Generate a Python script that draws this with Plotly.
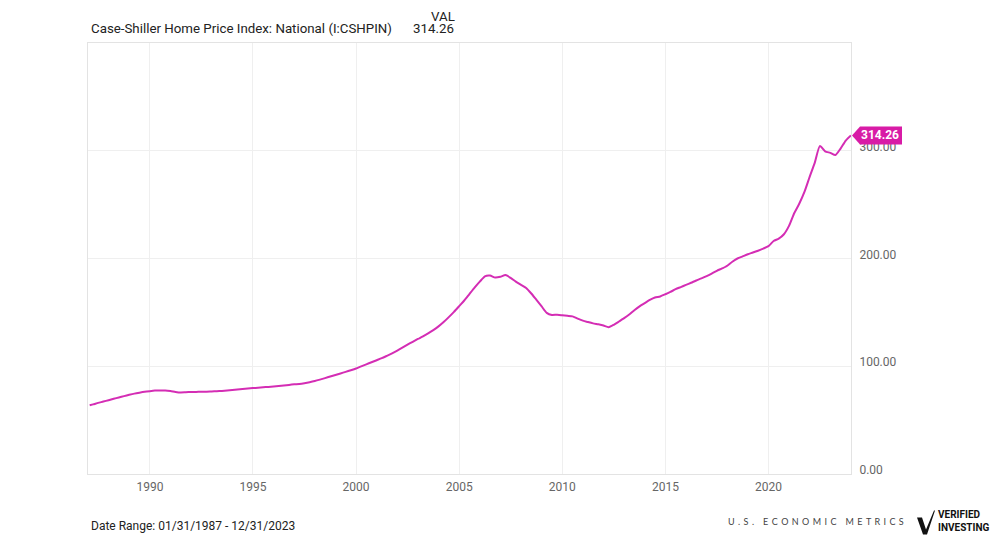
import pandas as pd
import plotly.graph_objects as go

# quarterly readings of the national index, first point is Jan 1987
start_date = "1987-01-31"
start_value = 63.8
quarter_values = [
    64.6, 66.0, 67.2, 68.5,      # 1987
    69.8, 71.0, 72.3, 73.5,      # 1988
    74.6, 75.5, 76.3, 76.9,      # 1989
    77.4, 77.6, 77.5, 77.0,      # 1990
    76.2, 75.7, 75.9, 76.1,      # 1991
    76.2, 76.4, 76.4, 76.6,      # 1992
    76.8, 77.1, 77.5, 77.9,      # 1993
    78.4, 78.9, 79.3, 79.7,      # 1994
    80.1, 80.5, 80.8, 81.2,      # 1995
    81.7, 82.2, 82.7, 83.2,      # 1996
    83.6, 84.3, 85.2, 86.3,      # 1997
    87.6, 89.0, 90.5, 91.9,      # 1998
    93.3, 94.8, 96.3, 97.9,      # 1999
    99.9, 101.8, 103.7, 105.6,   # 2000
    107.5, 109.7, 112.0, 114.5,  # 2001
    117.2, 120.0, 122.7, 125.3,  # 2002
    127.8, 130.6, 133.6, 137.0,  # 2003
    141.0, 145.6, 150.5, 155.8,  # 2004
    161.0, 167.0, 173.0, 178.5,  # 2005
    183.5, 184.2, 182.3, 183.0,  # 2006
    184.6, 182.0, 178.5, 175.5,  # 2007
    172.6, 167.5, 161.5, 155.5,  # 2008
    149.5, 147.6, 147.8, 147.3,  # 2009
    146.8, 146.3, 144.2, 142.3,  # 2010
    141.0, 139.8, 138.9, 137.8,  # 2011
    136.3, 138.5, 141.5, 144.6,  # 2012
    148.0, 152.0, 155.6, 158.6,  # 2013
    161.5, 163.8, 164.8, 166.8,  # 2014
    169.0, 171.5, 173.5, 175.5,  # 2015
    177.5, 179.6, 181.5, 183.6,  # 2016
    186.0, 188.6, 190.8, 193.3,  # 2017
    197.0, 200.0, 202.0, 204.0,  # 2018
    205.5, 207.2, 209.2, 211.5,  # 2019
    216.2, 218.4, 222.5, 230.5,  # 2020
    242.0, 251.0, 262.0, 276.0,  # 2021
    289.0, 304.5, 299.5, 298.0,  # 2022
    296.0, 302.0, 309.5, 314.26, # 2023
]
quarter_dates = pd.date_range("1987-03-31", "2023-12-31", freq="QE").strftime("%Y-%m-%d").tolist()

dates = [start_date] + quarter_dates
values = [start_value] + quarter_values
last_value = values[-1]

y_ticks = [0, 100, 200, 300]
series_name = "Case-Shiller Home Price Index: National (I:CSHPIN)"

line_color = "#d42db4"
tag_color = "#d81ba6"
font_family = "Roboto, Arial, sans-serif"
text_color = "#222222"

# the page body adds an 8px margin, so the figure is drawn 8px smaller
page_offset = 8
fig_w, fig_h = 1000 - page_offset, 542 - page_offset
# plot box in page pixels
left, right, top, bottom = 88, 851, 43, 474.5


def px_x(px):
    return (px - left) / float(right - left)


def px_y(py):
    return (bottom - py) / float(bottom - top)


fig = go.Figure()
fig.add_trace(go.Scatter(x=dates, y=values, mode="lines",
                         line=dict(color=line_color, width=2, shape="spline", smoothing=0.6),
                         hoverinfo="skip", showlegend=False))

fig.update_layout(
    width=fig_w, height=fig_h,
    margin=dict(l=left - page_offset, r=1000 - right, t=top - page_offset, b=542 - bottom,
                autoexpand=False),
    paper_bgcolor="white", plot_bgcolor="white",
    font=dict(family=font_family, color="#666666", size=12),
    showlegend=False,
)
fig.update_xaxes(type="date", range=["1987-01-01", "2024-01-01"], automargin=False,
                 tick0="1990-01-01", dtick="M60", tickformat="%Y",
                 showgrid=True, gridcolor="#efefef", gridwidth=1,
                 showline=True, linecolor="#e3e3e3", mirror=True,
                 ticks="", zeroline=False, ticklabelstandoff=2,
                 tickfont=dict(size=12, color="#666666"))
fig.update_yaxes(range=[0, 400], tickvals=y_ticks, tickformat=".2f", automargin=False,
                 side="right", showgrid=True, gridcolor="#efefef", gridwidth=1,
                 showline=True, linecolor="#e3e3e3", mirror=True,
                 ticks="", zeroline=False, ticklabelstandoff=5, ticklabelshift=-4,
                 tickfont=dict(size=12, color="#666666"))

# value tag at the right edge
fig.add_shape(type="path", xref="paper", yref="y", xsizemode="pixel", ysizemode="pixel",
              xanchor=1, yanchor=last_value,
              path="M 1,0 L 9,9 L 51,9 L 51,-9 L 9,-9 Z",
              fillcolor=tag_color, line=dict(width=0), layer="above")
fig.add_annotation(x=1, y=last_value, xref="paper", yref="y", xanchor="left", yanchor="middle",
                   xshift=8, text="<b>%.2f</b>" % last_value, showarrow=False,
                   font=dict(size=12, color="white", family=font_family))

# header
fig.add_annotation(x=px_x(89), y=px_y(28), xref="paper", yref="paper", xanchor="left",
                   yanchor="middle", text=series_name, showarrow=False,
                   font=dict(size=13.3, color=text_color, family=font_family))
fig.add_annotation(x=px_x(456), y=px_y(28), xref="paper", yref="paper", xanchor="right",
                   yanchor="middle", text="%.2f" % last_value, showarrow=False,
                   font=dict(size=13.3, color=text_color, family=font_family))
fig.add_annotation(x=px_x(456), y=px_y(page_offset), xref="paper", yref="paper", xanchor="right",
                   yanchor="top", borderpad=0, text="VAL", showarrow=False,
                   font=dict(size=13.3, color=text_color, family=font_family))

# footer
fig.add_annotation(x=px_x(89), y=px_y(527), xref="paper", yref="paper", xanchor="left",
                   yanchor="middle", text="Date Range: 01/31/1987 - 12/31/2023", showarrow=False,
                   font=dict(size=12, color=text_color, family=font_family))

brand = "U\u2009 .\u2009 S\u2009 .\u2003 " + " \u2009".join("ECONOMIC") + "\u2003 " + " \u2009".join("METRICS")
fig.add_annotation(x=px_x(906), y=px_y(522), xref="paper", yref="paper", xanchor="right",
                   yanchor="middle", showarrow=False, text=brand,
                   font=dict(size=9, color="#444444", family="Lato, Arial, sans-serif"))
fig.add_shape(type="path", xref="paper", yref="paper", xsizemode="pixel", ysizemode="pixel",
              xanchor=px_x(917), yanchor=px_y(535),
              path="M 0,17 L 5,17 L 9,5 L 17,24 L 18,24 L 10,0 L 6,0 Z",
              fillcolor="#111111", line=dict(width=0))
fig.add_annotation(x=px_x(936), y=px_y(522), xref="paper", yref="paper", xanchor="left",
                   yanchor="middle", showarrow=False, align="left",
                   text="<b>VERIFIED</b><br><b>INVESTING</b>",
                   font=dict(size=10, color="#111111", family=font_family))

fig.write_html("out.html")
